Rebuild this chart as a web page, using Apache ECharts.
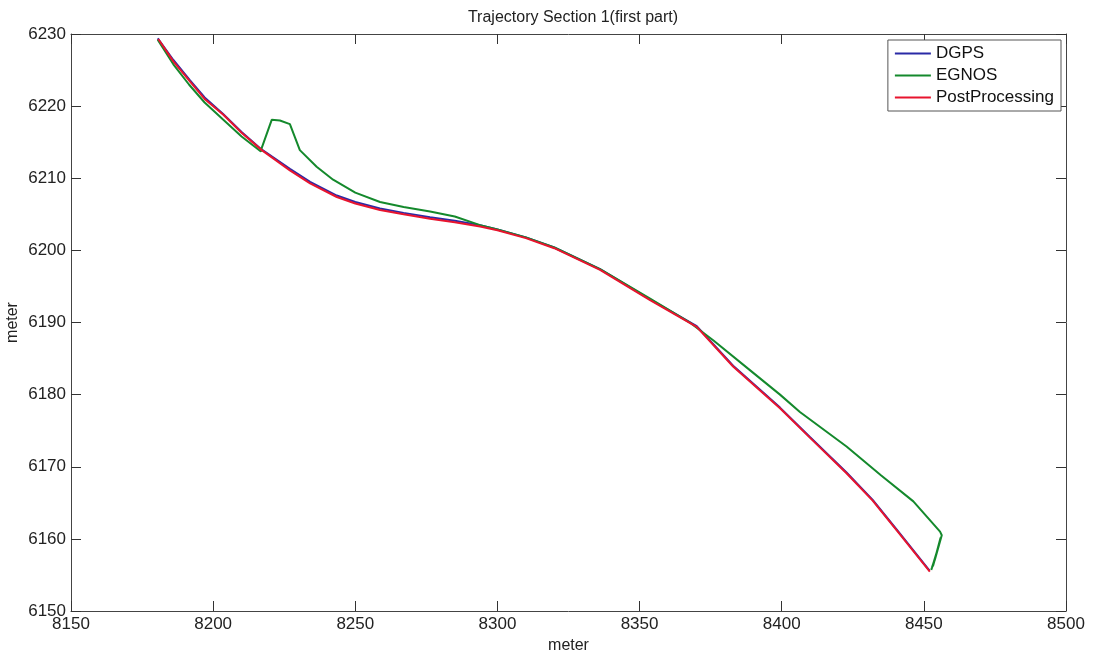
<!DOCTYPE html>
<html>
<head>
<meta charset="utf-8">
<script src="https://cdn.jsdelivr.net/npm/echarts@6/dist/echarts.min.js"></script>
<style>
  html, body { margin: 0; padding: 0; background: #fff; }
  #chart { width: 1099px; height: 656px; }
</style>
</head>
<body>
<div id="chart"></div>
<script>
// x ticks / y ticks
var xTicks = [8150, 8200, 8250, 8300, 8350, 8400, 8450, 8500];
var yTicks = [6150, 6160, 6170, 6180, 6190, 6200, 6210, 6220, 6230];

// PostProcessing (red)
var ppX = [8180.7, 8186, 8191.9, 8197, 8203.6, 8210, 8217.1, 8227.0, 8234.1, 8243.5, 8250, 8258.7, 8267, 8276.3, 8285, 8293.9, 8300, 8310, 8320, 8336.1, 8353.7, 8370.1, 8382.9, 8399.4, 8410, 8422.8, 8432, 8440.4, 8452.1];
var ppY = [6229.3, 6226.2, 6223.4, 6221.0, 6218.8, 6216.3, 6213.9, 6211.1, 6209.3, 6207.4, 6206.5, 6205.6, 6205.0, 6204.4, 6203.9, 6203.3, 6202.8, 6201.7, 6200.3, 6197.3, 6193.1, 6189.4, 6183.9, 6178.1, 6174.0, 6169.1, 6165.3, 6161.2, 6155.45];

// DGPS (blue), almost hidden below the red line
var dgpsX = [8180.5, 8186, 8191.8, 8197, 8203.5, 8210, 8217.0, 8227.0, 8234.1, 8243.5, 8250, 8258.7, 8267, 8276.3, 8285, 8293.9, 8300, 8310, 8320, 8336.1, 8353.7, 8370.1, 8382.9, 8399.4, 8410, 8422.8, 8432, 8440.4, 8452.0];
var dgpsY = [6229.4, 6226.4, 6223.6, 6221.2, 6218.9, 6216.4, 6214.0, 6211.3, 6209.5, 6207.6, 6206.7, 6205.8, 6205.2, 6204.6, 6204.1, 6203.5, 6202.9, 6201.8, 6200.4, 6197.4, 6193.2, 6189.5, 6184.0, 6178.2, 6174.1, 6169.2, 6165.4, 6161.3, 6155.6];

// EGNOS (green), with the back-and-forth scribble at the end
var egX = [8180.5, 8186, 8191.5, 8197, 8203.3, 8210, 8216.8, 8217.1, 8220.6, 8223.5, 8227.0, 8230.5, 8236.4, 8242.2, 8250, 8258.7, 8267, 8276.3, 8285, 8293.9, 8300, 8310, 8320, 8336.1, 8353.7, 8368, 8376, 8388.8, 8399.4, 8406.4, 8422.8, 8435, 8446.3, 8455.7, 8456.3, 8453.8, 8455.9, 8453.2, 8455.4, 8452.7, 8454.8, 8452.6, 8454.2, 8452.8];
var egY = [6229.2, 6225.8, 6223.0, 6220.5, 6218.2, 6215.8, 6213.7, 6214.2, 6218.1, 6218.0, 6217.5, 6213.9, 6211.6, 6209.8, 6208.0, 6206.7, 6206.0, 6205.4, 6204.7, 6203.5, 6202.9, 6201.8, 6200.4, 6197.4, 6193.3, 6189.9, 6187.5, 6183.4, 6180.0, 6177.6, 6172.8, 6168.8, 6165.2, 6161.0, 6160.5, 6157.0, 6160.2, 6156.2, 6159.3, 6155.8, 6158.4, 6155.7, 6157.6, 6156.0];

function zip(xs, ys) {
  var out = [];
  for (var i = 0; i < xs.length; i++) out.push([xs[i], ys[i]]);
  return out;
}

var font = 'Liberation Sans, Arial, sans-serif';
var axisLine = { show: true, onZero: false, lineStyle: { color: '#444', width: 1 } };
var axisTick = { show: true, inside: true, length: 10, lineStyle: { color: '#333' } };
var plain = function (v) { return String(v); };

var chart = echarts.init(document.getElementById('chart'));
var option = {
  backgroundColor: '#fff',
  animation: false,
  title: {
    text: 'Trajectory Section 1(first part)',
    left: 568,
    textAlign: 'center',
    top: 5,
    textStyle: { fontFamily: font, fontSize: 16, fontWeight: 'normal', color: '#222' }
  },
  grid: { left: 71, right: 33, top: 34, bottom: 45, containLabel: false, outerBoundsMode: 'none' },
  legend: {
    orient: 'vertical',
    right: 38,
    top: 40,
    padding: [5, 7, 5, 7],
    itemGap: 5,
    itemWidth: 36,
    itemHeight: 2,
    icon: 'rect',
    backgroundColor: '#fff',
    borderColor: '#555',
    borderWidth: 1,
    borderRadius: 0,
    textStyle: { fontFamily: font, fontSize: 17, color: '#111', lineHeight: 17 },
    data: ['DGPS', 'EGNOS', 'PostProcessing']
  },
  xAxis: [{
    type: 'value',
    min: 8150, max: 8500, interval: 50,
    position: 'bottom',
    name: 'meter',
    nameLocation: 'middle',
    nameGap: 27,
    nameMoveOverlap: false,
    nameTextStyle: { fontFamily: font, fontSize: 16, color: '#222' },
    axisLine: axisLine,
    axisTick: axisTick,
    splitLine: { show: false },
    axisLabel: { fontFamily: font, fontSize: 17, color: '#222', margin: 5, formatter: plain }
  }, {
    type: 'value',
    min: 8150, max: 8500, interval: 50,
    position: 'top',
    axisLine: axisLine,
    axisTick: axisTick,
    splitLine: { show: false },
    axisLabel: { show: false }
  }],
  yAxis: [{
    type: 'value',
    min: 6150, max: 6230, interval: 10,
    position: 'left',
    name: 'meter',
    nameLocation: 'middle',
    nameGap: 50,
    nameMoveOverlap: false,
    nameTextStyle: { fontFamily: font, fontSize: 16, color: '#222' },
    axisLine: axisLine,
    axisTick: axisTick,
    splitLine: { show: false },
    axisLabel: { fontFamily: font, fontSize: 17, color: '#222', margin: 5, formatter: plain }
  }, {
    type: 'value',
    min: 6150, max: 6230, interval: 10,
    position: 'right',
    axisLine: axisLine,
    axisTick: axisTick,
    splitLine: { show: false },
    axisLabel: { show: false }
  }],
  series: [
    {
      name: 'DGPS',
      type: 'line',
      symbol: 'none',
      data: zip(dgpsX, dgpsY),
      lineStyle: { color: '#2a2aa6', width: 2 },
      itemStyle: { color: '#2a2aa6' }
    },
    {
      name: 'EGNOS',
      type: 'line',
      symbol: 'none',
      data: zip(egX, egY),
      lineStyle: { color: '#14892c', width: 2 },
      itemStyle: { color: '#14892c' }
    },
    {
      name: 'PostProcessing',
      type: 'line',
      symbol: 'none',
      data: zip(ppX, ppY),
      lineStyle: { color: '#e8142e', width: 2 },
      itemStyle: { color: '#e8142e' }
    }
  ]
};
chart.setOption(option);
</script>
</body>
</html>
